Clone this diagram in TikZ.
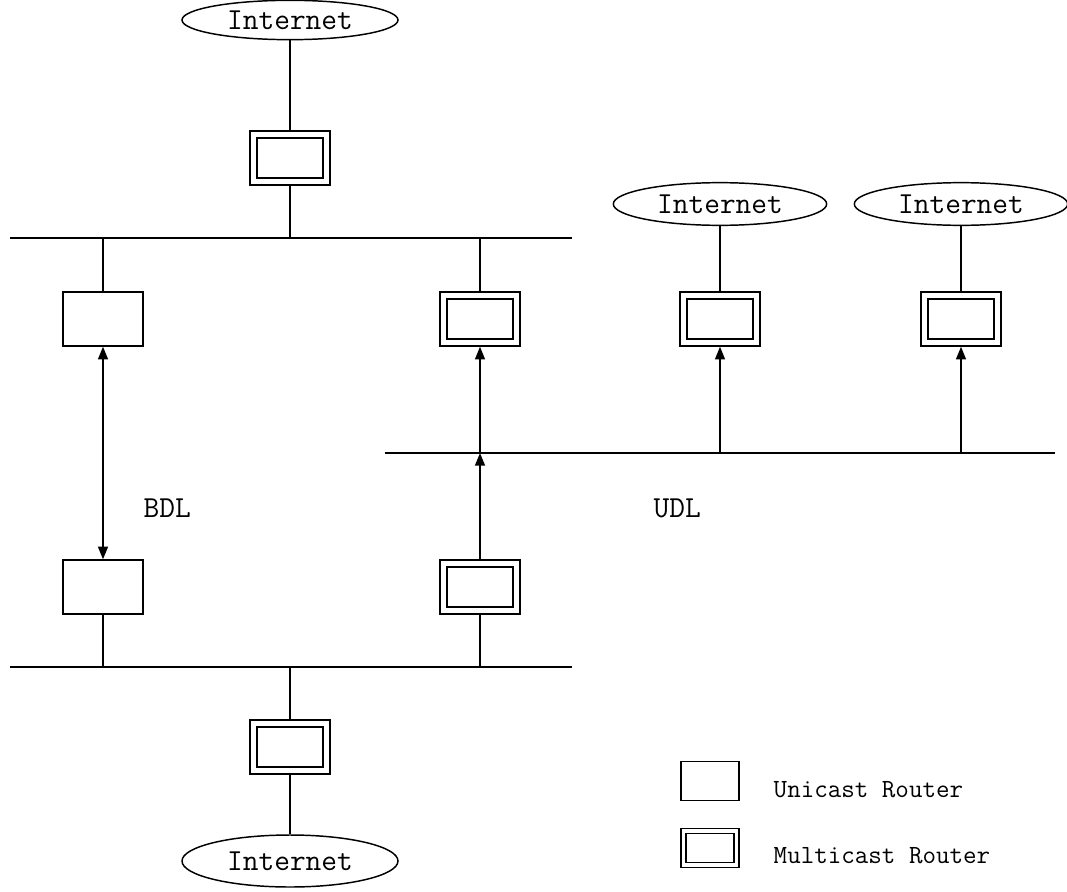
\documentclass[tikz,border=0pt]{standalone}
\usetikzlibrary{shapes.geometric,arrows.meta}
\begin{document}
\begin{tikzpicture}[x=0.75pt,y=-0.75pt,
  line width=1.1pt,
  every node/.style={inner sep=0pt},
  cloud/.style={draw,ellipse,minimum width=162pt,minimum height=30pt,
    font=\ttfamily\fontsize{22.9}{26}\selectfont},
  unirouter/.style={draw,rectangle,minimum width=60pt,minimum height=40.5pt},
  multirouter/.style={draw,rectangle,double,double distance=4.15pt,
    minimum width=54.75pt,minimum height=35.25pt,outer sep=3.2pt},
  keyuni/.style={draw,rectangle,minimum width=43.5pt,minimum height=29.25pt},
  keymulti/.style={draw,rectangle,double,double distance=2.65pt,
    minimum width=39.75pt,minimum height=25.5pt,outer sep=2.4pt},
  linklabel/.style={anchor=west,font=\ttfamily\fontsize{22.9}{26}\selectfont},
  keylabel/.style={anchor=west,font=\ttfamily\fontsize{19.7}{23}\selectfont},
  arr/.style={-{Triangle[length=9.5pt,width=7.5pt]}},
  darr/.style={{Triangle[length=9.5pt,width=7.5pt]}-{Triangle[length=9.5pt,width=7.5pt]}}]
\useasboundingbox (0,0) rectangle (1067,892);

% segments (buses)
\coordinate (busAl) at (10,238);  \coordinate (busAr) at (572,238);
\coordinate (busBl) at (10,667);  \coordinate (busBr) at (572,667);
\coordinate (udll)  at (385,453); \coordinate (udlr)  at (1055,453);
\draw (busAl) -- (busAr);
\draw (busBl) -- (busBr);
\draw (udll) -- (udlr);

% Internet clouds
\node[cloud,minimum height=29.5pt] (netTop) at (290,20) {Internet};
\node[cloud,minimum width=160pt,minimum height=32pt] (netR1) at (720,204) {Internet};
\node[cloud,minimum width=160pt,minimum height=32pt] (netR2) at (961,204) {Internet};
\node[cloud,minimum height=39pt] (netBot) at (290,861) {Internet};

% routers
\node[multirouter] (mTop) at (290,158) {};
\node[unirouter]   (uA)   at (103,319) {};
\node[multirouter] (mA)   at (480,319) {};
\node[multirouter] (mR1)  at (720,319) {};
\node[multirouter] (mR2)  at (961,319) {};
\node[unirouter]   (uB)   at (103,587) {};
\node[multirouter] (mB)   at (480,587) {};
\node[multirouter] (mBot) at (290,747) {};

% attachments
\draw (netTop) -- (mTop);
\draw (mTop) -- (mTop |- busAl);
\draw (uA) -- (uA |- busAl);
\draw (mA) -- (mA |- busAl);
\draw (netR1) -- (mR1);
\draw (netR2) -- (mR2);
\draw (uB) -- (uB |- busBl);
\draw (mB) -- (mB |- busBl);
\draw (mBot) -- (mBot |- busBl);
\draw (mBot) -- (netBot);

% links
\draw[darr] (uA.south) -- (uB.north);
\draw[arr] (mA |- udll) -- (mA.south);
\draw[arr] (mR1 |- udll) -- (mR1.south);
\draw[arr] (mR2 |- udll) -- (mR2.south);
\draw[arr] (mB.north) -- (mB |- udll);

\node[linklabel] (bdl) at (143,508) {BDL};
\node[linklabel] (udl) at (653,508) {UDL};

% key
\node[keyuni]   (keyU) at (710,781) {};
\node[keymulti] (keyM) at (710,848) {};
\node[keylabel] (keyUt) at (773,790) {Unicast Router};
\node[keylabel] (keyMt) at (773,856) {Multicast Router};
\end{tikzpicture}
\end{document}
